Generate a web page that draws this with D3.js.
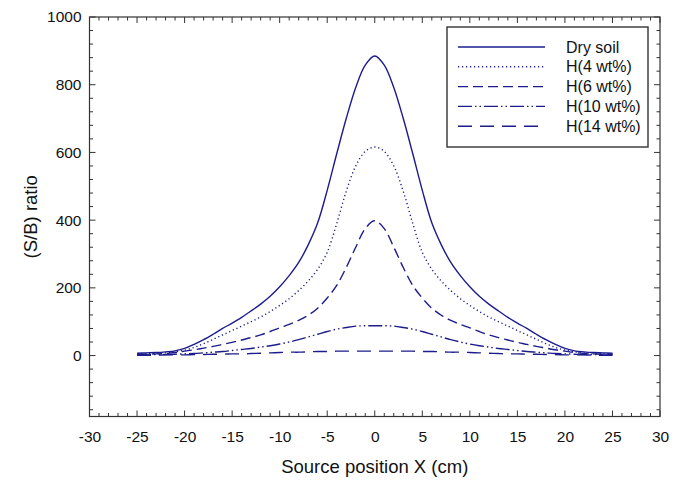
<!DOCTYPE html>
<html><head><meta charset="utf-8">
<script src="https://cdn.jsdelivr.net/npm/d3@7"></script>
<style>body{margin:0;background:#fff}svg{display:block}text{font-family:"Liberation Sans",Arial,sans-serif;fill:#111}</style>
</head><body><svg id="c" width="684" height="483"></svg>
<script>
const xs = [-25,-24,-23,-22,-21,-20,-19,-18,-17,-16,-15,-14,-13,-12,-11,-10,-9,-8,-7,-6,-5,-4,-3,-2,-1,0,1,2,3,4,5,6,7,8,9,10,11,12,13,14,15,16,17,18,19,20,21,22,23,24,25];
const drySoil = [7,8,9,11,14,21,33,47,63,80,96,113,132,152,175,203,236,275,327,392,488,596,700,792,858,885,858,792,700,596,488,392,327,275,236,203,175,152,132,113,96,80,63,47,33,21,14,11,9,8,7];
const h4 = [5,6,7,8,11,16,24,35,48,61,74,87,100,114,130,148,168,192,220,255,305,390,485,560,603,616,603,560,485,390,305,255,220,192,168,148,130,114,100,87,74,61,48,35,24,16,11,8,7,6,5];
const h6 = [4,4,5,6,9,13,17,22,27,33,39,46,53,61,71,82,92,104,119,140,170,207,260,320,375,398,375,320,260,207,170,140,119,104,92,82,71,61,53,46,39,33,27,22,17,13,9,6,5,4,4];
const h10 = [2,2,3,3,4,5,6,8,10,12,15,18,21,25,29,34,40,47,55,63,71,78,83,87,88,88,88,87,83,78,71,63,55,47,40,34,29,25,21,18,15,12,10,8,6,5,4,3,3,2,2];
const h14 = [1,1,1,2,2,2,3,3,4,4,5,5,6,7,8,9,10,10,11,12,12,13,13,13,13,13,13,13,13,13,12,12,11,10,10,9,8,7,6,5,5,4,4,3,3,2,2,2,1,1,1];
const seriesNames = ["Dry soil","H(4 wt%)","H(6 wt%)","H(10 wt%)","H(14 wt%)"];
const xTicks = [-30,-25,-20,-15,-10,-5,0,5,10,15,20,25,30];
const yTicks = [0,200,400,600,800,1000];

const svg = d3.select("#c");
const L=89.5, R=660, T=17, B=416.5;
const color="#1c1c8e";
const x = d3.scaleLinear().domain([-30,30]).range([L,R]);
const y = d3.scaleLinear().domain([-180,1000]).range([B,T]);

svg.append("rect").attr("x",L).attr("y",T).attr("width",R-L).attr("height",B-T)
  .attr("fill","none").attr("stroke","#333").attr("stroke-width",1.2);

const minorX = d3.range(-30,31,1);
const minorY = d3.range(-160,1001,40);
const g = svg.append("g").attr("stroke","#333").attr("stroke-width",1);
minorX.forEach(v=>{
  const len = (v%5===0)?6:3.5;
  g.append("line").attr("x1",x(v)).attr("x2",x(v)).attr("y1",B).attr("y2",B-len);
  g.append("line").attr("x1",x(v)).attr("x2",x(v)).attr("y1",T).attr("y2",T+len);
});
minorY.forEach(v=>{
  const len = (v%200===0)?6:3.5;
  g.append("line").attr("y1",y(v)).attr("y2",y(v)).attr("x1",L).attr("x2",L+len);
  g.append("line").attr("y1",y(v)).attr("y2",y(v)).attr("x1",R).attr("x2",R-len);
});

const fmt = d => String(d);
const xAxis = svg.append("g").attr("transform",`translate(0,${B})`)
  .call(d3.axisBottom(x).tickValues(xTicks).tickSize(0).tickPadding(14).tickFormat(fmt));
const yAxis = svg.append("g").attr("transform",`translate(${L},0)`)
  .call(d3.axisLeft(y).tickValues(yTicks).tickSize(0).tickPadding(8).tickFormat(fmt));
[xAxis,yAxis].forEach(a=>{a.select(".domain").remove();a.selectAll("text").attr("font-size",15.5).attr("font-family","Liberation Sans, Arial, sans-serif").attr("fill","#111");});

svg.append("text").attr("x",(L+R)/2).attr("y",473).attr("text-anchor","middle").attr("font-size",18.5).text("Source position X (cm)");
svg.append("text").attr("transform",`translate(37,${(T+B)/2}) rotate(-90)`).attr("text-anchor","middle").attr("font-size",18.5).text("(S/B) ratio");

const dashes = [null,"1.2,2.8","10,5","14,3,1.5,3,1.5,3","14,8"];
const allSeries = [drySoil,h4,h6,h10,h14];
const line = d3.line().x((d,i)=>x(xs[i])).y(d=>y(d)).curve(d3.curveCatmullRom.alpha(0.5));
allSeries.forEach((s,k)=>{
  svg.append("path").datum(s).attr("d",line).attr("fill","none").attr("stroke",color)
    .attr("stroke-width",1.4).attr("stroke-dasharray",dashes[k]);
});

svg.append("rect").attr("x",447).attr("y",27).attr("width",201).attr("height",120)
  .attr("fill","#fff").attr("stroke","#333").attr("stroke-width",1.4);
seriesNames.forEach((n,k)=>{
  const yy = 47 + k*19.8;
  svg.append("line").attr("x1",458).attr("x2",545).attr("y1",yy).attr("y2",yy)
    .attr("stroke",color).attr("stroke-width",1.4).attr("stroke-dasharray",dashes[k]);
  svg.append("text").attr("x",566).attr("y",yy+5.5).attr("font-size",16).text(n);
});
</script></body></html>
